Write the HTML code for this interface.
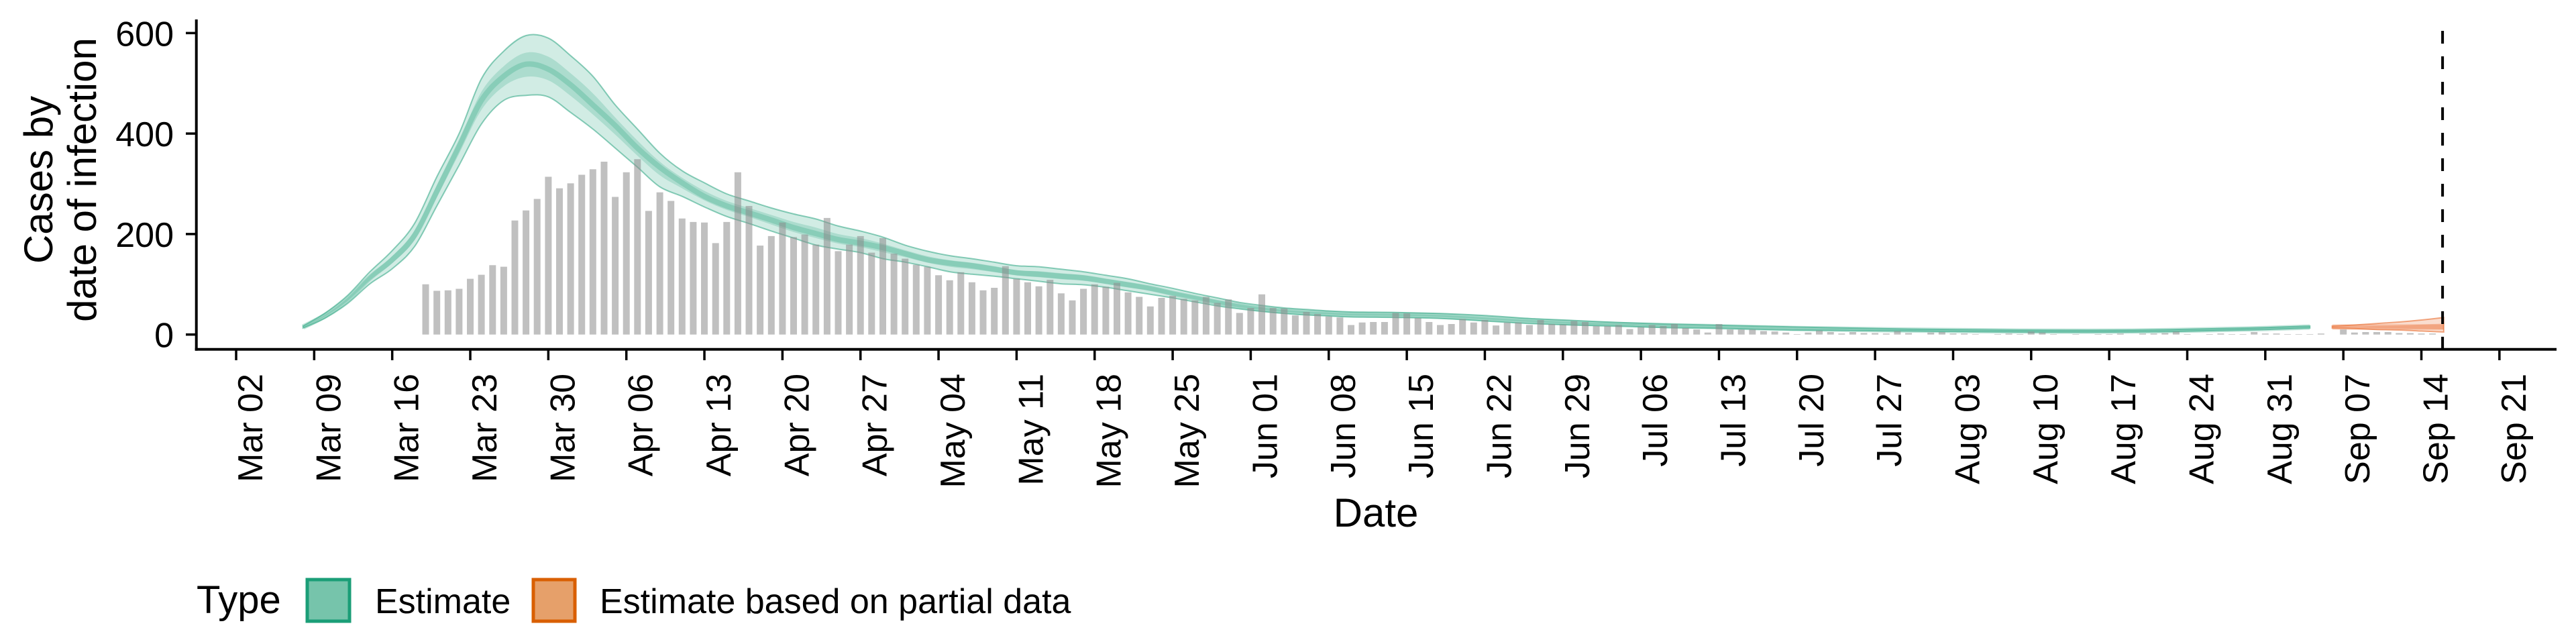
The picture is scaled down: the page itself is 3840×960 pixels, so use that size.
<!DOCTYPE html>
<html><head><meta charset="utf-8">
<style>
html,body{margin:0;padding:0;background:#fff;}
svg{display:block;font-family:"Liberation Sans",Arial,sans-serif;}
</style></head>
<body>
<svg id="chart" width="3840" height="960" viewBox="0 0 3840 960" xmlns="http://www.w3.org/2000/svg">
  <rect x="0" y="0" width="3840" height="960" fill="#fff"/>
  <g id="bands"></g>
  <g id="bars"></g>
  <g id="axes"></g>
  <text x="0" y="0" font-size="60" text-anchor="middle" transform="translate(78,268) rotate(-90)">Cases by</text>
  <text x="0" y="0" font-size="60" text-anchor="middle" transform="translate(143,268) rotate(-90)">date of infection</text>
  <text x="2051" y="785" font-size="60" text-anchor="middle">Date</text>
  <g>
    <text x="293" y="914" font-size="58">Type</text>
    <rect x="458" y="864" width="63" height="62" fill="#76c4ab" stroke="#1b9e77" stroke-width="5"/>
    <text x="559" y="914" font-size="52">Estimate</text>
    <rect x="795" y="864" width="62" height="62" fill="#e6a06a" stroke="#d95f02" stroke-width="5"/>
    <text x="894" y="914" font-size="52">Estimate based on partial data</text>
  </g>
</svg>
<script>
// ---- data ----
const barStartDay = 17; // Mar 19 (days since Mar 02)
const barValues = [100,87,88,91,111,119,138,135,227,247,270,314,291,301,318,329,344,274,323,349,246,283,266,231,224,223,182,224,323,256,177,196,223,194,199,179,232,166,179,196,163,
192,161,151,139,135,118,108,124,104,88,93,136,111,104,96,109,82,68,91,100,95,103,84,75,56,73,77,71,68,75,63,70,43,53,80,53,52,38,45,41,36,34,19,24,25,25,43,42,33,25,19,21,31,24,29,18,24,24,19,29,21,20,27,25,17,17,19,11,15,19,17,21,13,10,4,21,10,10,
10,7,6,4,1,4,8,5,2,5,3,3,2,7,3,0,4,5,2,2,1,0,1,2,1,6,4,1,0,1,0,1,1,2,0,2,2,3,6,1,0,1,2,1,1,5,2,2,1,1,1,2,0,10,4,5,5,5,3,3,2,2];
const estDays = [6,8,10,12,14,16,18,20,22,24,26,28,30,32,34,36,38,40,42,44,46,48,50,52,54,56,58,60,62,64,66,68,70,72,74,76,78,80,82,84,86,88,90,92,94,96,98,100,104,108,112,116,120,124,128,132,136,140,150,160,170,180,186];
const estMedian = [15,38,70,113,149,197,285,376,466,514,538,528,497,457,416,371,333,302,275,256,242,228,213,201,189,182,173,161,149,142,137,130,123,120,116,113,106,99,92,82,73,64,57,51,47,44,42,40,39,37,32,27,23,20,18,16,14,12,9,7,7,11,15];
const estHi90 = [17,43,78,125,167,221,314,400,509,564,595,590,555,514,457,409,361,326,302,280,266,252,240,230,216,206,194,178,166,157,151,144,137,135,130,125,118,111,101,92,82,73,64,58,53,50,47,45,44,42,38,32,28,24,21,19,17,15,11,9,9,13,17];
const estLo90 = [13,33,62,101,131,175,256,337,419,466,476,473,442,409,371,333,294,275,254,235,221,206,192,178,170,163,151,144,135,125,120,116,111,106,101,99,94,87,80,73,65,57,51,46,42,39,37,35,34,32,27,22,19,17,14,13,11,9,7,5,5,9,13];
const estHi50 = [16,40,73,118,156,207,297,386,483,534,561,553,520,480,432,386,344,312,286,266,252,238,224,213,200,192,181,168,156,148,143,136,128,126,122,118,111,104,96,86,77,68,60,54,49,46,44,42,41,39,34,29,25,22,19,17,15,13,10,8,8,12,16];
const estLo50 = [14,36,67,108,142,188,273,360,447,494,513,506,475,438,398,356,317,291,267,248,234,219,204,192,181,174,164,154,143,135,130,124,118,114,110,107,101,94,87,78,70,61,54,49,45,42,40,38,37,35,30,25,21,19,16,15,13,11,8,6,6,10,14];
const partDays = [188,190,192,194,196,198];
const partMedian = [15,15,15,15,15,15];
const partHi90 = [17,19,22,25,29,34];
const partLo90 = [13,12,10,9,7,5];
const partHi50 = [16,16,17,18,20,22];
const partLo50 = [14,14,13,12,11,10];
const cutoffDay = 197.9;
const yTicks = [0,200,400,600];
const xTickLabels = ["Mar 02","Mar 09","Mar 16","Mar 23","Mar 30","Apr 06","Apr 13","Apr 20","Apr 27","May 04","May 11","May 18","May 25","Jun 01","Jun 08","Jun 15","Jun 22","Jun 29","Jul 06","Jul 13","Jul 20","Jul 27","Aug 03","Aug 10","Aug 17","Aug 24","Aug 31","Sep 07","Sep 14","Sep 21"];

// ---- scales ----
const X0 = 352, DAY = 16.62;
const Y0 = 498.7, YPX = 449.4/600;
const xs = d => X0 + d*DAY;
const ys = v => Y0 - v*YPX;
const NS = "http://www.w3.org/2000/svg";
function mk(tag, attrs, parent){ const e=document.createElementNS(NS,tag); for(const k in attrs) e.setAttribute(k,attrs[k]); parent.appendChild(e); return e; }

function smooth(pts){
  let d = "M"+pts[0][0].toFixed(1)+","+pts[0][1].toFixed(1);
  for(let i=0;i<pts.length-1;i++){
    const p0=pts[i-1]||pts[i], p1=pts[i], p2=pts[i+1], p3=pts[i+2]||p2;
    const c1=[p1[0]+(p2[0]-p0[0])/6, p1[1]+(p2[1]-p0[1])/6];
    const c2=[p2[0]-(p3[0]-p1[0])/6, p2[1]-(p3[1]-p1[1])/6];
    d+="C"+c1[0].toFixed(1)+","+c1[1].toFixed(1)+" "+c2[0].toFixed(1)+","+c2[1].toFixed(1)+" "+p2[0].toFixed(1)+","+p2[1].toFixed(1);
  }
  return d;
}
function bandPath(days, hi, lo){
  const top = days.map((d,i)=>[xs(d),ys(hi[i])]);
  const bot = days.map((d,i)=>[xs(d),ys(lo[i])]).reverse();
  return smooth(top)+"L"+smooth(bot).slice(1)+"Z";
}

const bands = document.getElementById('bands');
function drawSeries(days, med, lo90, hi90, lo50, hi50, col, name){
  const g = mk('g',{},bands);
  
  
  const b90 = mk('path',{d:bandPath(days,hi90,lo90), fill:col, 'fill-opacity':0.2, stroke:col, 'stroke-opacity':0.5, 'stroke-width':2},g);
  
  
  const b50 = mk('path',{d:bandPath(days,hi50,lo50), fill:col, 'fill-opacity':0.2},g);
  
  
  const m = mk('path',{d:smooth(days.map((d,i)=>[xs(d),ys(med[i])])), fill:'none', stroke:col, 'stroke-opacity':0.25, 'stroke-width':8},g);
  
  
}
drawSeries(estDays, estMedian, estLo90, estHi90, estLo50, estHi50, '#1b9e77', 'estimate');
drawSeries(partDays, partMedian, partLo90, partHi90, partLo50, partHi50, '#e6550d', 'partial-estimate');

const bars = document.getElementById('bars');
barValues.forEach((v,i)=>{
  const d = barStartDay + i;
  const h = Math.max(v*YPX, 0);
  const r = mk('rect',{x:(xs(d)-5).toFixed(1), y:ys(v).toFixed(1), width:10, height:h.toFixed(1), fill:'#8c8c8c', 'fill-opacity':0.55},bars);
  
  
});

const axes = document.getElementById('axes');
const yl = mk('line',{x1:292.7,y1:29,x2:292.7,y2:522.7,stroke:'#000','stroke-width':4},axes);


const xl = mk('line',{x1:290.7,y1:520.7,x2:3811,y2:520.7,stroke:'#000','stroke-width':4},axes);


yTicks.forEach(v=>{
  const t = mk('line',{x1:277,y1:ys(v),x2:292,y2:ys(v),stroke:'#000','stroke-width':3.5},axes);
  
  
  const tx = mk('text',{x:259,y:ys(v)+19,'font-size':52,'text-anchor':'end'},axes);
  tx.textContent = v;
  
  
});
xTickLabels.forEach((lab,i)=>{
  const x = xs(i*7);
  const t = mk('line',{x1:x,y1:522,x2:x,y2:537,stroke:'#000','stroke-width':3.5},axes);
  
  
  const tx = mk('text',{x:0,y:0,'font-size':52,'text-anchor':'end',transform:'translate('+(x+39).toFixed(1)+',557) rotate(-90)'},axes);
  tx.textContent = lab;
  
  
});
const cl = mk('line',{x1:xs(cutoffDay),y1:29,x2:xs(cutoffDay),y2:520,stroke:'#000','stroke-width':4,'stroke-dasharray':'19 19','stroke-dashoffset':21},axes);


</script>
</body></html>
